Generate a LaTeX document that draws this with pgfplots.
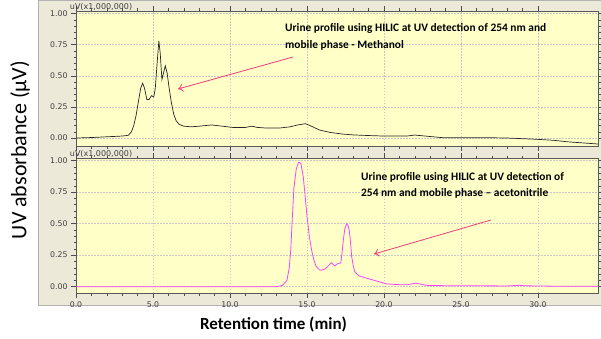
\documentclass[border=0pt]{standalone}
\usepackage{pgfplots}
\pgfplotsset{compat=1.18}
\usepackage{pgfplotstable}
\usetikzlibrary{arrows.meta}
\usepackage{fontspec}
\setmainfont{Carlito}
\newfontfamily\tickfont{DejaVu Sans}
\definecolor{panelbg}{HTML}{ECE9D8}
\definecolor{plotbg}{HTML}{FFFFC8}
\definecolor{arrowc}{HTML}{F03C78}
\definecolor{magentaline}{HTML}{FF40FF}
\definecolor{gridc}{HTML}{C8C8C8}

\pgfplotstableread{
t v
0 0.000
1 0.004
2 0.010
3 0.016
3.4 0.022
3.6 0.05
3.75 0.10
3.9 0.18
4.05 0.29
4.2 0.40
4.33 0.44
4.45 0.40
4.6 0.31
4.75 0.31
4.9 0.34
5.05 0.33
5.15 0.40
5.28 0.62
5.38 0.78
5.47 0.68
5.58 0.47
5.68 0.52
5.8 0.58
5.92 0.52
6.05 0.40
6.2 0.28
6.35 0.19
6.5 0.14
6.7 0.11
7.0 0.095
7.5 0.09
8.0 0.095
8.8 0.105
9.5 0.095
10.2 0.085
11.0 0.085
11.4 0.095
11.8 0.085
12.4 0.08
13.2 0.08
13.9 0.09
14.4 0.105
14.9 0.115
15.2 0.10
15.8 0.065
16.5 0.045
17.3 0.032
18.0 0.025
19.0 0.020
20.0 0.016
21.5 0.016
22.0 0.024
22.5 0.018
23.8 0.003
26.6 0.003
28.0 0.000
29.9 -0.010
31.0 -0.018
31.9 -0.030
33.0 -0.040
33.9 -0.048
}\methanol

\pgfplotstableread{
t v
0 0
13.0 0.0
13.4 0.01
13.7 0.05
13.85 0.15
13.95 0.30
14.05 0.55
14.15 0.78
14.3 0.93
14.45 0.985
14.6 0.98
14.76 0.87
14.88 0.72
15.0 0.56
15.15 0.40
15.3 0.29
15.45 0.21
15.6 0.16
15.8 0.135
15.95 0.13
16.15 0.14
16.3 0.155
16.5 0.18
16.6 0.19
16.7 0.175
16.8 0.165
16.95 0.18
17.1 0.185
17.2 0.19
17.28 0.27
17.36 0.37
17.46 0.46
17.58 0.50
17.68 0.48
17.75 0.44
17.83 0.35
17.9 0.24
18.0 0.17
18.1 0.12
18.25 0.10
18.4 0.085
18.8 0.07
19.3 0.053
19.8 0.035
20.2 0.022
21.0 0.016
21.5 0.015
21.8 0.022
22.1 0.028
22.4 0.02
22.8 0.01
24.0 0.008
26.0 0.007
28.0 0.006
28.5 0.009
28.8 0.011
29.2 0.007
31.0 0.004
33.9 0.003
}\acetonitrile

\pgfplotsset{
  chrom/.style={
    scale only axis,
    width=522pt,
    xmin=0, xmax=33.9,
    axis background/.style={fill=plotbg},
    axis line style={draw=gray!70!black},
    xtick={0,5,...,30},
    ytick={0,0.25,0.5,0.75,1},
    minor x tick num=4,
    minor y tick num=4,
    tick align=outside,
    major tick length=5pt,
    minor tick length=2.5pt,
    tick style={gray!60!black, line width=0.4pt},
    every minor tick/.style={gray!60!black, line width=0.4pt},
    grid=major,
    major grid style={gridc, dashed, dash pattern=on 1.5pt off 1.5pt, line width=0.5pt},
    ticklabel style={font=\tickfont\fontsize{7.8}{8}\selectfont, text=black!75},
    /pgf/number format/assume math mode=true,
    yticklabel style={/pgf/number format/fixed, /pgf/number format/fixed zerofill, /pgf/number format/precision=2},
    xticklabel style={/pgf/number format/fixed, /pgf/number format/fixed zerofill, /pgf/number format/precision=1},
    clip mode=individual,
  }
}

\begin{document}
\begin{tikzpicture}[x=1pt,y=1pt]
\path[use as bounding box] (0,0) rectangle (601,338);
\fill[white] (0,0) rectangle (601,338);
\filldraw[fill=panelbg, draw=gray!60] (38,33) rectangle (601,338);

\begin{axis}[chrom, at={(76pt,192pt)}, anchor=south west, height=135pt,
  ymin=-0.064, ymax=1.02, xticklabels={}]
\addplot[black!85, line width=0.7pt] table[x=t,y=v] {\methanol};
\node[anchor=south west, inner sep=0pt, font=\tickfont\fontsize{8}{9}\selectfont, text=black!75] at (rel axis cs:-0.012,1.005) {uV(x1,000,000)};
\end{axis}

\begin{axis}[chrom, at={(76pt,45pt)}, anchor=south west, height=135pt,
  ymin=-0.05, ymax=1.02]
\addplot[magentaline, line width=0.8pt] table[x=t,y=v] {\acetonitrile};
\node[anchor=south west, inner sep=0pt, font=\tickfont\fontsize{8}{9}\selectfont, text=black!75] at (rel axis cs:-0.012,1.005) {uV(x1,000,000)};
\end{axis}

% annotations
\node[anchor=west, inner sep=0pt, font=\bfseries\fontsize{11.4}{13}\selectfont] at (285,310) {Urine profile using HILIC at UV detection of 254 nm and};
\node[anchor=west, inner sep=0pt, font=\bfseries\fontsize{11.4}{13}\selectfont] at (285,293) {mobile phase - Methanol};
\draw[arrowc, line width=0.8pt, -{To[length=5pt,width=8pt]}] (293,281) -- (178,249);

\node[anchor=west, inner sep=0pt, font=\bfseries\fontsize{11.4}{13}\selectfont] at (361,161) {Urine profile using HILIC at UV detection of};
\node[anchor=west, inner sep=0pt, font=\bfseries\fontsize{11.4}{13}\selectfont] at (361,145) {254 nm and mobile phase – acetonitrile};
\draw[arrowc, line width=0.8pt, -{To[length=5pt,width=8pt]}] (491,118) -- (374,84);

% axis titles
\node[rotate=90, font=\fontsize{22}{24}\selectfont] at (20,188) {UV absorbance (µV)};
\node[font=\bfseries\fontsize{17}{19}\selectfont] at (273.5,14) {Retention time (min)};
\end{tikzpicture}
\end{document}
